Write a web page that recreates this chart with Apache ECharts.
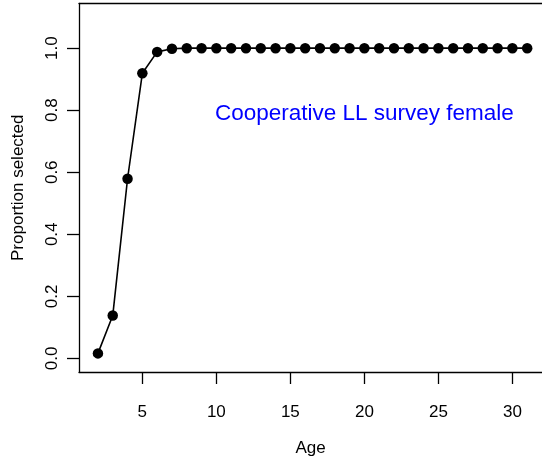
<!DOCTYPE html>
<html>
<head>
<meta charset="utf-8">
<script src="https://cdn.jsdelivr.net/npm/echarts@6/dist/echarts.min.js"></script>
<style>
html,body{margin:0;padding:0;background:#fff;}
#c{width:542px;height:463px;}
</style>
</head>
<body>
<div id="c"></div>
<script>
const ages = [2,3,4,5,6,7,8,9,10,11,12,13,14,15,16,17,18,19,20,21,22,23,24,25,26,27,28,29,30,31];
const proportion = [0.016,0.138,0.579,0.919,0.988,0.998,1,1,1,1,1,1,1,1,1,1,1,1,1,1,1,1,1,1,1,1,1,1,1,1];
const xTicks = [5,10,15,20,25,30];
const yTicks = [0,0.2,0.4,0.6,0.8,1.0];
const annotation = 'Cooperative LL survey female';
const annotationAt = [20, 0.8];
const xTitle = 'Age';
const yTitle = 'Proportion selected';

const FONT = 'Liberation Sans, Arial, Helvetica, sans-serif';
const LINE = {color: '#000', width: 1.3};
const chart = echarts.init(document.getElementById('c'), null, {renderer:'canvas'});
chart.setOption({
  animation: false,
  backgroundColor: '#fff',
  grid: {left: 79, top: 3.5, right: 0, bottom: 91, show: false},
  xAxis: [{
    type: 'value', min: 0.72, max: 32.0, position: 'bottom',
    name: xTitle, nameLocation: 'middle', nameGap: 68,
    nameTextStyle: {fontFamily: FONT, fontSize: 17, color: '#000'},
    axisLine: {show: true, onZero: false, lineStyle: LINE},
    splitLine: {show: false},
    axisTick: {show: true, length: 12, lineStyle: LINE, customValues: xTicks},
    axisLabel: {fontFamily: FONT, fontSize: 17, color: '#000', margin: 32, customValues: xTicks, formatter: v => String(v)}
  }, {
    type: 'value', min: 0.72, max: 32.0, position: 'top',
    axisLine: {show: true, onZero: false, lineStyle: LINE},
    splitLine: {show: false}, axisTick: {show: false}, axisLabel: {show: false}
  }],
  yAxis: {
    type: 'value', min: -0.044, max: 1.144,
    name: yTitle, nameLocation: 'middle', nameGap: 52, nameRotate: 90,
    nameTextStyle: {fontFamily: FONT, fontSize: 17, color: '#000'},
    axisLine: {show: true, onZero: false, lineStyle: LINE},
    splitLine: {show: false},
    axisTick: {show: true, length: 12, lineStyle: LINE, customValues: yTicks},
    axisLabel: {fontFamily: FONT, fontSize: 17, color: '#000', margin: 18, rotate: 90, customValues: yTicks, formatter: v => v.toFixed(1)}
  },
  series: [{
    type: 'line',
    data: ages.map((a, i) => [a, proportion[i]]),
    symbol: 'circle', symbolSize: 10.5, showSymbol: true,
    lineStyle: {color: '#000', width: 1.6},
    itemStyle: {color: '#000'}
  }, {
    type: 'scatter',
    data: [annotationAt],
    symbolSize: 2,
    itemStyle: {color: 'rgba(0,0,0,0)', opacity: 1},
    silent: true,
    z: 5,
    label: {show: true, position: 'inside', offset: [0, 4], formatter: annotation, color: '#0000FF', fontFamily: FONT, fontSize: 22.5, opacity: 1}
  }]
});
</script>
</body>
</html>
